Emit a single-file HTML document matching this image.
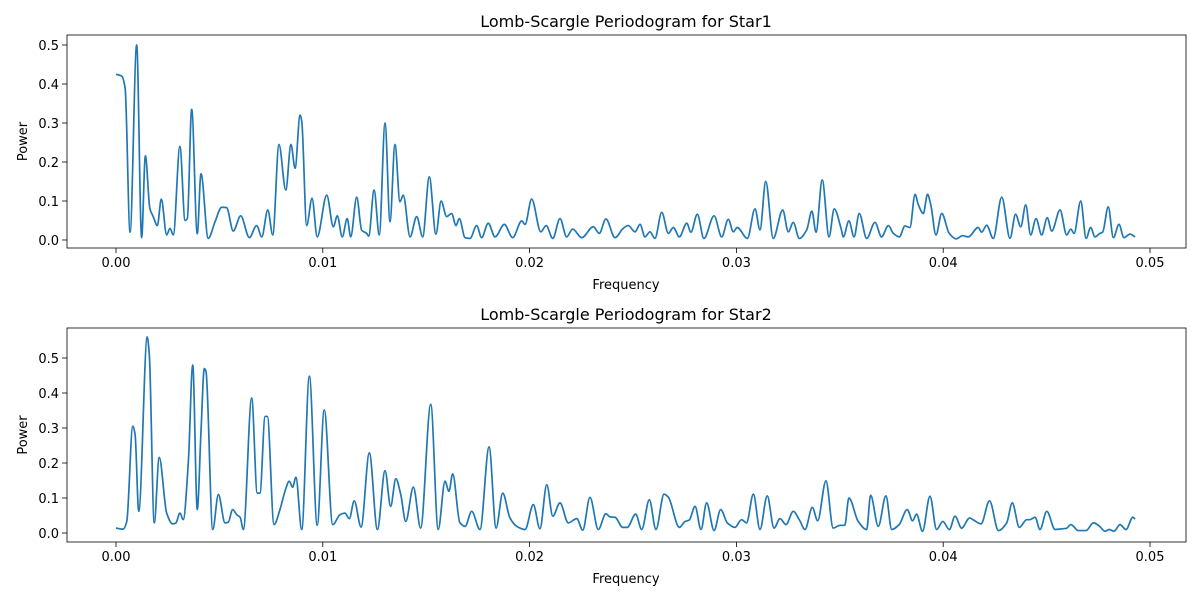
<!DOCTYPE html>
<html><head><meta charset="utf-8"><style>
html,body{margin:0;padding:0;background:#fff;}
svg{display:block;font-family:"DejaVu Sans","Liberation Sans",sans-serif;}
</style></head><body>
<svg id="chart" width="1200" height="600" viewBox="0 0 1200 600"></svg>
<script>
// Star1 data (frequency in units of 1e-4)
const freq1 = [0,2.8,4.4,6.8,10.0,12.4,14.2,16.4,18.0,20.0,21.9,24.5,26.1,27.7,30.9,33.4,34.5,36.6,39.3,41.1,44.6,47.9,51.1,53.5,56.7,60.3,64.5,68.0,70.5,73.4,75.8,78.8,82.1,84.6,86.6,89.0,89.8,92.2,94.8,97.3,101.9,105.1,107.0,109.4,111.8,113.5,116.4,118.8,121.2,122.2,124.8,127.3,130.1,132.5,134.9,137.3,138.9,142.2,145.4,148.3,151.5,154.7,157.2,159.9,162.3,164.4,166.0,168.8,171.2,174.4,176.8,180.0,183.3,187.8,191.8,196.2,197.8,201.0,205.4,208.0,211.2,214.7,217.9,220.8,225.2,230.8,233.7,236.9,241.3,245.3,247.7,251.0,253.4,255.8,258.2,260.6,263.9,267.1,269.5,272.4,276.0,278.0,281.1,284.3,289.2,292.9,296.1,298.5,300.4,305.3,309.0,311.4,314.2,317.8,322.4,325.1,327.5,330.4,334.0,336.5,338.5,341.5,344.8,347.3,350.6,351.7,354.4,356.9,359.4,363.0,367.0,370.2,373.5,375.9,378.8,381.5,383.9,386.4,388.0,390.4,392.4,394.0,396.5,399.3,402.9,406.2,409.4,412.1,416.9,418.6,421.0,424.2,428.3,432.3,435.0,437.5,439.9,442.3,444.9,447.6,450.3,452.5,456.5,459.7,461.7,463.3,466.5,469.1,471.3,473.4,475.8,477.1,479.8,482.3,485.0,487.4,490.3,492.8];
const power1 = [.425,.42,.39,.02,.50,.006,.216,.08,.06,.037,.105,.013,.03,.013,.24,.05,.055,.335,.016,.17,.004,.047,.084,.083,.023,.062,.006,.037,.008,.077,.013,.245,.128,.245,.184,.32,.305,.037,.107,.008,.115,.034,.062,.008,.055,.008,.11,.025,.017,.01,.128,.013,.3,.047,.245,.098,.115,.008,.06,.008,.162,.015,.1,.06,.068,.037,.055,.006,.004,.037,.006,.043,.008,.04,.006,.049,.04,.105,.021,.037,.004,.055,.008,.028,.006,.034,.017,.054,.006,.03,.037,.021,.04,.008,.021,.004,.071,.017,.032,.008,.043,.02,.066,.004,.062,.008,.053,.021,.032,.004,.08,.026,.15,.004,.077,.021,.045,.004,.026,.074,.02,.154,.008,.08,.03,.008,.049,.008,.068,.004,.045,.008,.037,.017,.008,.036,.032,.117,.09,.068,.117,.09,.013,.068,.017,.003,.011,.008,.032,.02,.038,.004,.11,.004,.066,.034,.09,.013,.055,.013,.057,.023,.077,.013,.028,.017,.1,.004,.032,.008,.017,.02,.085,.006,.04,.006,.015,.008];
// Star2 data
const freq2 = [0,3.5,5.2,8.1,9.2,11.0,15.1,16.1,18.5,20.9,24.5,27.4,29.0,30.9,32.5,35.0,37.1,39.3,41.1,42.7,43.5,46.8,49.5,52.7,54.3,56.4,58.4,60.0,61.6,65.6,68.3,69.6,72.1,73.2,76.4,79.3,81.7,83.8,85.4,87.0,89.8,93.5,97.3,100.7,104.8,108.3,110.7,112.8,115.2,118.5,122.5,126.4,130.1,132.8,135.3,137.7,140.1,143.8,147.3,152.2,155.8,159.1,161.0,162.8,166.3,168.8,172.0,176.0,180.4,183.8,187.0,190.5,193.8,197.8,201.8,205.0,208.3,211.2,214.7,218.7,222.8,225.7,229.2,233.2,236.9,238.9,241.3,245.0,247.2,251.3,254.2,257.9,261.1,265.0,267.1,272.4,275.2,277.2,280.0,282.9,285.6,289.2,292.4,295.6,299.3,302.5,304.9,308.2,311.4,314.9,318.2,321.1,324.0,327.5,330.4,333.2,336.7,339.3,343.3,346.8,350.1,352.4,354.4,358.9,363.0,364.9,368.6,372.3,375.1,378.7,382.6,385.2,387.1,390.0,393.6,396.8,399.8,403.0,405.7,408.9,412.8,414.7,418.3,422.4,426.7,430.7,433.4,436.8,440.4,442.0,444.4,446.8,450.1,454.1,457.3,459.4,461.8,465.3,469.1,472.6,475.3,478.2,480.3,482.6,485.5,488.4,491.7,492.8];
const power2 = [.014,.011,.033,.305,.283,.062,.56,.51,.029,.216,.057,.026,.029,.057,.038,.205,.48,.067,.29,.47,.462,.01,.11,.029,.031,.067,.052,.045,.01,.386,.114,.114,.333,.333,.024,.067,.119,.148,.131,.159,.01,.448,.022,.352,.024,.052,.057,.041,.092,.017,.229,.01,.178,.076,.155,.11,.033,.131,.014,.368,.01,.148,.119,.169,.029,.019,.062,.01,.246,.014,.114,.043,.019,.01,.081,.012,.138,.048,.086,.029,.041,.008,.102,.01,.055,.046,.045,.016,.016,.054,.01,.095,.01,.111,.102,.016,.033,.037,.076,.01,.086,.007,.067,.029,.016,.038,.029,.111,.01,.106,.014,.041,.024,.062,.038,.01,.073,.035,.149,.014,.022,.022,.1,.033,.01,.108,.019,.106,.01,.024,.067,.035,.054,.005,.105,.01,.033,.01,.048,.014,.043,.037,.026,.092,.007,.029,.086,.016,.038,.038,.045,.01,.062,.01,.012,.013,.024,.007,.007,.029,.021,.005,.01,.005,.024,.01,.045,.04];
const xTicks = [0,0.01,0.02,0.03,0.04,0.05];
const xTickLabels = ["0.00","0.01","0.02","0.03","0.04","0.05"];
const yTicks = [0,0.1,0.2,0.3,0.4,0.5];
const yTickLabels = ["0.0","0.1","0.2","0.3","0.4","0.5"];

const NS="http://www.w3.org/2000/svg";
const svg=document.getElementById('chart');
function mk(tag,attrs,parent){const e=document.createElementNS(NS,tag);for(const k in attrs)e.setAttribute(k,attrs[k]);(parent||svg).appendChild(e);return e;}

function monotonePath(pts){
  const n=pts.length;
  const dx=[],s=[];
  for(let i=0;i<n-1;i++){dx.push(pts[i+1][0]-pts[i][0]);s.push((pts[i+1][1]-pts[i][1])/dx[i]);}
  const m=new Array(n);
  m[0]=s[0];m[n-1]=s[n-2];
  for(let i=1;i<n-1;i++){
    if(s[i-1]*s[i]<=0)m[i]=0;
    else{const w1=2*dx[i]+dx[i-1],w2=dx[i]+2*dx[i-1];m[i]=(w1+w2)/(w1/s[i-1]+w2/s[i]);}
  }
  let d=`M${pts[0][0].toFixed(2)},${pts[0][1].toFixed(2)}`;
  for(let i=0;i<n-1;i++){
    const h=dx[i]/3;
    d+=`C${(pts[i][0]+h).toFixed(2)},${(pts[i][1]+m[i]*h).toFixed(2)} ${(pts[i+1][0]-h).toFixed(2)},${(pts[i+1][1]-m[i+1]*h).toFixed(2)} ${pts[i+1][0].toFixed(2)},${pts[i+1][1].toFixed(2)}`;
  }
  return d;
}

function panel(cfg){
  const g=mk('g',{});
  
  
  const L=67,R=1186,T=cfg.top,B=cfg.bottom;
  const xS=f=>116+f*20680;
  const yS=p=>cfg.y0-p*cfg.yScale;
  const t=mk('text',{x:626,y:T-8,'text-anchor':'middle','font-size':'16px',fill:'#000'},g);
  t.textContent=cfg.title;
  
  
  xTicks.forEach((v,i)=>{
    const x=xS(v);
    const tk=mk('line',{x1:x,x2:x,y1:B,y2:B+5,stroke:'#000','stroke-width':0.8},g);
    
    
    const lb=mk('text',{x:x,y:B+19,'text-anchor':'middle','font-size':'13px',fill:'#000'},g);
    lb.textContent=xTickLabels[i];
    
    
  });
  yTicks.forEach((v,i)=>{
    const y=yS(v);
    const tk=mk('line',{x1:L-5,x2:L,y1:y,y2:y,stroke:'#000','stroke-width':0.8},g);
    
    
    const lb=mk('text',{x:L-8,y:y+5,'text-anchor':'end','font-size':'13px',fill:'#000'},g);
    lb.textContent=yTickLabels[i];
    
    
  });
  const xl=mk('text',{x:626,y:B+41,'text-anchor':'middle','font-size':'13px',fill:'#000'},g);
  xl.textContent='Frequency';
  
  
  const cy=(T+B)/2;
  const yl=mk('text',{x:27,y:cy,'text-anchor':'middle','font-size':'13px',fill:'#000',transform:`rotate(-90 27 ${cy})`},g);
  yl.textContent='Power';
  
  
  const pts=cfg.f.map((f,i)=>[xS(f*1e-4),yS(cfg.p[i])]);
  const path=mk('path',{d:monotonePath(pts),fill:'none',stroke:'#1f77b4','stroke-width':1.7,'stroke-linejoin':'round'},g);
  
  
  const fr=mk('rect',{x:L,y:T,width:R-L,height:B-T,fill:'none',stroke:'#000','stroke-width':0.8},g);
  
  
}
panel({name:'star1-panel',title:'Lomb-Scargle Periodogram for Star1',top:35,bottom:248,y0:240,yScale:390,f:freq1,p:power1,lineName:'star1-power-line'});
panel({name:'star2-panel',title:'Lomb-Scargle Periodogram for Star2',top:328,bottom:542,y0:533,yScale:350,f:freq2,p:power2,lineName:'star2-power-line'});
</script>
</body></html>
